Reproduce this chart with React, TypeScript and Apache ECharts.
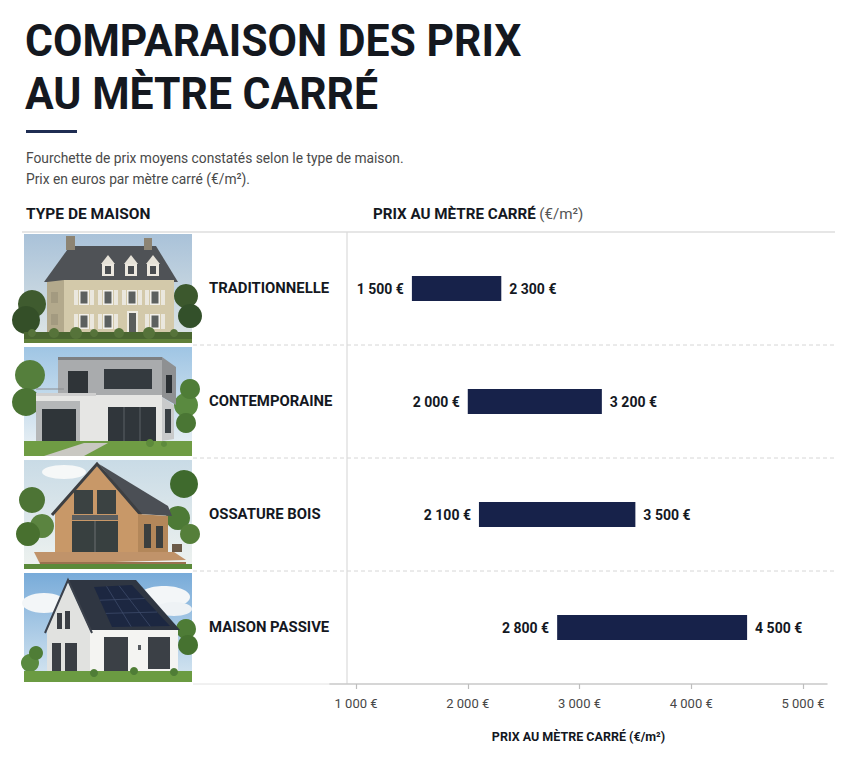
import React, { useEffect, useRef } from "react";
import * as echarts from "echarts";

const categories = ["TRADITIONNELLE", "CONTEMPORAINE", "OSSATURE BOIS", "MAISON PASSIVE"];
const minPrices = [1500, 2000, 2100, 2800];
const maxPrices = [2300, 3200, 3500, 4500];
const tickValues = [1000, 2000, 3000, 4000, 5000];

const TITLE_LINES = ["COMPARAISON DES PRIX", "AU MÈTRE CARRÉ"];
const SUBTITLE_LINES = [
  "Fourchette de prix moyens constatés selon le type de maison.",
  "Prix en euros par mètre carré (€/m²).",
];
const AXIS_NAME = "PRIX AU MÈTRE CARRÉ (€/m²)";

const FONT = 'Roboto, "Noto Sans", sans-serif';
const NAVY = "#17224a";
const INK = "#14181f";

const fmt = (v: number) => String(v).replace(/\B(?=(\d{3})+(?!\d))/g, " ") + " €";

// layout
const GRID_LEFT = 330;
const GRID_RIGHT_EDGE = 827;
const GRID_TOP = 232;
const GRID_BOTTOM_EDGE = 684;
const ROW_H = (GRID_BOTTOM_EDGE - GRID_TOP) / categories.length;
const PHOTO_X = 24;
const PHOTO_W = 168;

const lg = (a: string, b: string) =>
  new echarts.graphic.LinearGradient(0, 0, 0, 1, [
    { offset: 0, color: a },
    { offset: 1, color: b },
  ]);
const rect = (x: number, y: number, width: number, height: number, fill: any) => ({
  type: "rect",
  shape: { x, y, width, height },
  style: { fill },
});
const poly = (points: number[][], fill: any) => ({ type: "polygon", shape: { points }, style: { fill } });
const circ = (cx: number, cy: number, r: number, fill: string) => ({ type: "circle", shape: { cx, cy, r }, style: { fill } });
const ell = (cx: number, cy: number, rx: number, ry: number, fill: string) => ({
  type: "ellipse",
  shape: { cx, cy, rx, ry },
  style: { fill },
});
const seg = (x1: number, y1: number, x2: number, y2: number, stroke: string, lineWidth = 1) => ({
  type: "line",
  shape: { x1, y1, x2, y2 },
  style: { stroke, lineWidth },
});

function photoTraditional() {
  const c: any[] = [
    rect(0, 0, PHOTO_W, 109, lg("#a9c2d9", "#dfe6e6")),
    circ(8, 70, 14, "#3f5b2f"),
    circ(2, 86, 14, "#344f28"),
    circ(162, 62, 12, "#3c582d"),
    circ(166, 82, 12, "#33502a"),
    poly([[20, 48], [46, 12], [132, 12], [154, 48]], "#4f5256"),
    rect(42, 2, 9, 14, "#8d8473"),
    rect(120, 4, 8, 12, "#8d8473"),
    rect(40, 46, 110, 54, "#d3c9aa"),
    poly([[23, 48], [40, 46], [40, 100], [23, 98]], "#b3a98c"),
  ];
  [84, 107, 129].forEach((x) => {
    c.push(poly([[x - 7, 30], [x, 21], [x + 7, 30]], "#e6e2d8"));
    c.push(rect(x - 6, 30, 12, 12, "#ece8df"));
    c.push(rect(x - 3, 32, 6, 8, "#4a4d50"));
  });
  [56, 80].forEach((y) => {
    [60, 84, 108, 131].forEach((x) => {
      if (y === 80 && x === 108) {
        c.push(rect(103, 77, 11, 23, "#efece4"));
        c.push(rect(105, 79, 7, 19, "#5a5d5c"));
        return;
      }
      c.push(rect(x - 10, y, 4, 15, "#eae7de"));
      c.push(rect(x + 6, y, 4, 15, "#eae7de"));
      c.push(rect(x - 5, y, 10, 15, "#f2f0ea"));
      c.push(rect(x - 3.5, y + 1.5, 7, 12, "#5c605f"));
    });
  });
  c.push(rect(27, 58, 7, 11, "#a39a80"), rect(27, 80, 7, 11, "#a39a80"));
  c.push(rect(0, 98, PHOTO_W, 11, "#4a6631"));
  [8, 30, 52, 70, 95, 125, 150].forEach((x, i) => c.push(circ(x, 99, 4 + (i % 3), "#56733a")));
  c.push(rect(0, 105, PHOTO_W, 4, "#5f7f3a"));
  return c;
}

function photoContemporary() {
  return [
    rect(0, 0, PHOTO_W, 109, lg("#9fc5e4", "#eef3f5")),
    circ(6, 28, 15, "#557f3c"),
    circ(2, 55, 14, "#4b7434"),
    circ(162, 58, 12, "#5a8a40"),
    circ(166, 42, 10, "#4f7d37"),
    circ(162, 76, 10, "#4a7634"),
    rect(34, 12, 104, 36, "#a9abad"),
    rect(34, 10, 104, 3, "#7d7f81"),
    poly([[138, 10], [152, 20], [152, 58], [138, 50]], "#8e9092"),
    rect(44, 24, 20, 22, "#2f3438"),
    rect(80, 22, 48, 20, "#343a3f"),
    rect(142, 28, 6, 18, "#2a2f33"),
    rect(12, 48, 126, 46, "#e6e6e4"),
    rect(12, 46, 60, 3, "#cfcfcf"),
    seg(12, 42, 40, 42, "#8a8d90", 1),
    rect(12, 54, 44, 40, "#b5b7b8"),
    rect(18, 62, 34, 32, "#2f3539"),
    rect(84, 60, 48, 34, "#30363b"),
    seg(100, 60, 100, 94, "#5a6066", 1),
    seg(116, 60, 116, 94, "#5a6066", 1),
    poly([[138, 50], [150, 58], [150, 92], [138, 94]], "#c9cacb"),
    rect(141, 62, 6, 24, "#3a4045"),
    rect(0, 94, PHOTO_W, 15, "#6f9c44"),
    poly([[20, 109], [60, 96], [84, 96], [60, 109]], "#c9c8c2"),
    circ(126, 96, 4, "#5d8a3c"),
    circ(140, 97, 3, "#5d8a3c"),
  ];
}

function photoWood() {
  return [
    rect(0, 0, PHOTO_W, 109, lg("#c9dbe6", "#eef2ef")),
    ell(40, 12, 22, 7, "#f6f8f8"),
    circ(8, 40, 13, "#4d7435"),
    circ(18, 66, 12, "#5b8440"),
    circ(4, 74, 12, "#48702f"),
    circ(160, 24, 14, "#3f6a2d"),
    circ(154, 58, 12, "#4d7a36"),
    circ(166, 74, 10, "#557f3a"),
    poly([[75, 4], [144, 46], [148, 56], [116, 54]], "#4b4f55"),
    poly([[31, 52], [73, 6], [114, 52], [114, 92], [31, 92]], "#c89868"),
    { type: "polyline", shape: { points: [[28, 55], [73, 4], [117, 55]] }, style: { stroke: "#3d3f42", lineWidth: 3, fill: "none" } },
    poly([[114, 54], [144, 56], [144, 92], [114, 92]], "#b3875a"),
    rect(50, 30, 19, 24, "#3b4242"),
    rect(73, 30, 19, 24, "#3b4242"),
    rect(48, 55, 46, 5, "#5a5e60"),
    rect(48, 61, 46, 31, "#384040"),
    seg(71, 61, 71, 92, "#6b6f70", 1),
    rect(120, 64, 7, 24, "#3b3f3f"),
    rect(132, 66, 7, 22, "#3b3f3f"),
    poly([[10, 92], [150, 92], [162, 100], [16, 104]], "#c0936a"),
    rect(16, 102, 146, 3, "#9a7250"),
    rect(0, 104, PHOTO_W, 5, "#5b8a3a"),
    rect(148, 84, 10, 8, "#6b5a48"),
  ];
}

function photoPassive() {
  const c: any[] = [
    rect(0, 0, PHOTO_W, 109, lg("#78abd9", "#d8e7f1")),
    ell(20, 30, 22, 10, "#f3f6f8"),
    ell(140, 24, 26, 11, "#f3f6f8"),
    ell(150, 36, 18, 7, "#eef2f5"),
    circ(162, 56, 10, "#4e7c36"),
    circ(164, 72, 10, "#467230"),
    circ(6, 90, 9, "#5a8a3f"),
    circ(12, 80, 7, "#4f7d36"),
    poly([[44, 7], [112, 7], [156, 57], [66, 57]], "#2f3642"),
    poly([[70, 14], [108, 12], [146, 53], [88, 54]], "#1c2741"),
    poly([[23, 57], [44, 9], [66, 57], [66, 100], [23, 100]], "#e1e2e0"),
    poly([[66, 57], [154, 57], [154, 100], [66, 100]], "#f4f4f2"),
    { type: "polyline", shape: { points: [[21, 60], [44, 7], [68, 60]] }, style: { stroke: "#3b414b", lineWidth: 2, fill: "none" } },
    rect(33, 40, 5, 16, "#3a3e44"),
    rect(41, 38, 5, 18, "#3a3e44"),
    rect(28, 70, 9, 28, "#3a3e44"),
    rect(41, 70, 12, 28, "#3a3e44"),
    rect(80, 64, 24, 34, "#3b4046"),
    rect(124, 64, 22, 32, "#3b4046"),
    rect(114, 72, 3, 5, "#555a60"),
    rect(0, 98, PHOTO_W, 11, "#6b9b42"),
    circ(110, 98, 4, "#4f7d36"),
    circ(70, 100, 4, "#4f7d36"),
    circ(150, 99, 4, "#4f7d36"),
  ];
  [0.33, 0.66].forEach((t) => {
    c.push(seg(70 + (108 - 70) * t, 14 - 2 * t, 88 + (146 - 88) * t, 54 - 1 * t, "#3c4a6a", 0.8));
  });
  [0.33, 0.66].forEach((t) => {
    c.push(seg(70 + (88 - 70) * t, 14 + 40 * t, 108 + (146 - 108) * t, 12 + 41 * t, "#3c4a6a", 0.8));
  });
  return c;
}

const photoBuilders = [photoTraditional, photoContemporary, photoWood, photoPassive];

export default function App() {
  const ref = useRef<HTMLDivElement | null>(null);

  useEffect(() => {
    document.body.style.margin = "0";
    if (!ref.current) return;
    const chart = echarts.init(ref.current, null, { renderer: "svg" });

    const graphics: any[] = [];
    TITLE_LINES.forEach((t, i) => {
      graphics.push({
        type: "text",
        x: 25,
        y: 41 + i * 53,
        scaleX: 0.95,
        silent: true,
        style: { text: t, fill: INK, fontSize: 45, fontWeight: "bold", fontFamily: FONT, align: "left", verticalAlign: "middle" },
      });
    });
    graphics.push({ type: "rect", shape: { x: 26, y: 130, width: 51, height: 3 }, style: { fill: "#1f2d52" }, silent: true });
    SUBTITLE_LINES.forEach((t, i) => {
      graphics.push({
        type: "text",
        x: 26,
        y: 158 + i * 21,
        scaleX: 0.89,
        silent: true,
        style: { text: t, fill: "#4a4a4a", fontSize: 15.5, fontFamily: FONT, align: "left", verticalAlign: "middle" },
      });
    });
    graphics.push({
      type: "text",
      x: 26,
      y: 214,
      silent: true,
      style: { text: "TYPE DE MAISON", fill: INK, fontSize: 15.5, fontWeight: "bold", fontFamily: FONT, verticalAlign: "middle" },
    });
    graphics.push({
      type: "text",
      x: 373,
      y: 214,
      scaleX: 0.98,
      silent: true,
      style: {
        text: "{b|PRIX AU MÈTRE CARRÉ} {n|(€/m²)}",
        verticalAlign: "middle",
        rich: {
          b: { fill: INK, fontSize: 15.5, fontWeight: "bold", fontFamily: FONT },
          n: { fill: "#555555", fontSize: 15.5, fontFamily: FONT },
        },
      },
    });
    // header rule and row separators
    graphics.push({ type: "line", silent: true, shape: { x1: 22, y1: GRID_TOP, x2: 835, y2: GRID_TOP }, style: { stroke: "#dedede", lineWidth: 1.5 } });
    for (let i = 1; i < categories.length; i++) {
      const y = GRID_TOP + i * ROW_H;
      graphics.push({
        type: "line",
        silent: true,
        shape: { x1: 193, y1: y, x2: 835, y2: y },
        style: { stroke: "#d6d6d6", lineWidth: 1, lineDash: [4, 3] },
      });
    }
    graphics.push({
      type: "line",
      silent: true,
      shape: { x1: 193, y1: GRID_BOTTOM_EDGE, x2: 330, y2: GRID_BOTTOM_EDGE },
      style: { stroke: "#e2e2e2", lineWidth: 1 },
    });
    graphics.push({
      type: "line",
      silent: true,
      shape: { x1: 347, y1: GRID_TOP, x2: 347, y2: GRID_BOTTOM_EDGE },
      style: { stroke: "#dadada", lineWidth: 1.2 },
    });
    // photos and category labels
    categories.forEach((cat, i) => {
      const top = GRID_TOP + i * ROW_H;
      graphics.push({
        type: "group",
        x: PHOTO_X,
        y: top + 2,
        silent: true,
        children: photoBuilders[i](),
      });
      graphics.push({
        type: "text",
        x: 209,
        y: top + ROW_H / 2 - 1,
        scaleX: 0.96,
        silent: true,
        style: { text: cat, fill: INK, fontSize: 15.5, fontWeight: "bold", fontFamily: FONT, verticalAlign: "middle" },
      });
    });

    const option: any = {
      animation: false,
      backgroundColor: "#ffffff",
      textStyle: { fontFamily: FONT },
      grid: {
        left: GRID_LEFT,
        right: 860 - GRID_RIGHT_EDGE,
        top: GRID_TOP,
        bottom: 768 - GRID_BOTTOM_EDGE,
        containLabel: false,
      },
      xAxis: {
        type: "value",
        min: 767,
        max: 5215,
        name: AXIS_NAME,
        nameLocation: "middle",
        nameGap: 46,
        nameTextStyle: { color: INK, fontSize: 12.5, fontWeight: "bold", fontFamily: FONT },
        axisLine: { show: true, lineStyle: { color: "#c9c9c9", width: 1.5 } },
        axisTick: { show: true, customValues: tickValues, length: 5, lineStyle: { color: "#bdbdbd", width: 1.2 } },
        axisLabel: {
          customValues: tickValues,
          formatter: (v: number) => fmt(v),
          color: "#474747",
          fontSize: 13,
          margin: 13,
          fontFamily: FONT,
        },
        splitLine: { show: false },
      },
      yAxis: {
        type: "category",
        data: categories,
        inverse: true,
        axisLine: { show: false },
        axisTick: { show: false },
        axisLabel: { show: false },
        splitLine: { show: false },
      },
      series: [
        {
          type: "bar",
          stack: "range",
          barWidth: 25,
          silent: true,
          itemStyle: { color: "rgba(0,0,0,0)" },
          data: minPrices,
          label: {
            show: true,
            position: "insideRight",
            distance: 8,
            formatter: (p: any) => fmt(minPrices[p.dataIndex]),
            color: INK,
            fontSize: 14,
            fontWeight: "bold",
            fontFamily: FONT,
          },
        },
        {
          type: "bar",
          stack: "range",
          barWidth: 25,
          itemStyle: { color: NAVY },
          data: maxPrices.map((v, i) => v - minPrices[i]),
          label: {
            show: true,
            position: "right",
            distance: 8,
            formatter: (p: any) => fmt(maxPrices[p.dataIndex]),
            color: INK,
            fontSize: 14,
            fontWeight: "bold",
            fontFamily: FONT,
          },
        },
      ],
      graphic: graphics,
    };

    chart.setOption(option);
    return () => chart.dispose();
  }, []);

  return <div ref={ref} style={{ width: 860, height: 768 }} />;
}
